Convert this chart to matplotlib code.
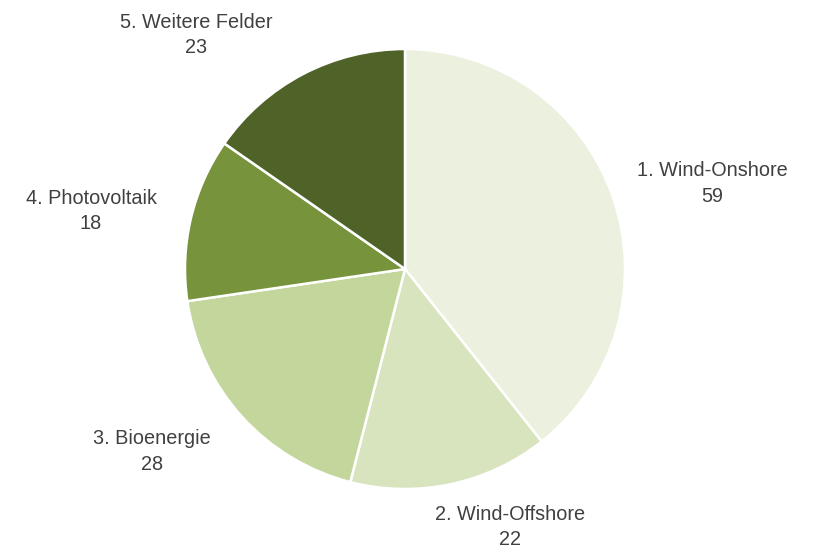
import matplotlib.pyplot as plt

labels = ['1. Wind-Onshore', '2. Wind-Offshore', '3. Bioenergie', '4. Photovoltaik', '5. Weitere Felder']
values = [59, 22, 28, 18, 23]
colors = ['#EBF1DE', '#D7E4BD', '#C3D69B', '#77933C', '#4F6228']

# label centres in pie-radius units (placed like the original)
label_pos = [(1.395, 0.39), (0.477, -1.173), (-1.15, -0.83), (-1.427, 0.264), (-0.95, 1.064)]

plt.rcParams['font.family'] = ['Liberation Sans', 'DejaVu Sans']

fig = plt.figure(figsize=(8.18, 5.51), dpi=100)
ax = fig.add_axes([0, 0, 1, 1])
ax.pie(values, colors=colors, startangle=90, counterclock=False, radius=1,
       wedgeprops=dict(edgecolor='white', linewidth=1.8))

for lab, val, (x, y) in zip(labels, values, label_pos):
    ax.text(x, y, f'{lab}\n{val}', ha='center', va='center', fontsize=14.3,
            color='#404040', linespacing=1.45)

ax.set_xlim(-405 / 220, (818 - 405) / 220)
ax.set_ylim(-(551 - 269) / 220, 269 / 220)
ax.set_aspect('auto')
ax.axis('off')

fig.savefig('out.png', dpi=100, facecolor='white')
